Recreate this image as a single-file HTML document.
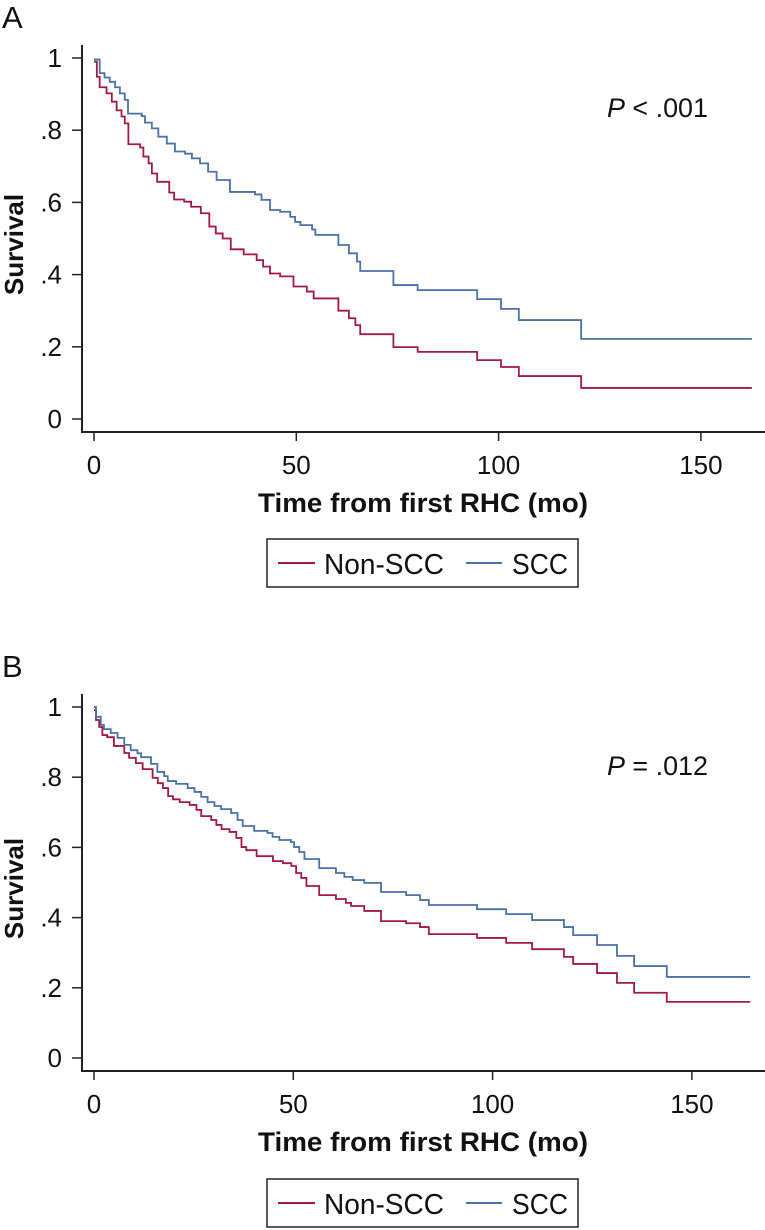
<!DOCTYPE html>
<html><head><meta charset="utf-8"><style>
html,body{margin:0;padding:0;background:#fff;}
svg{display:block;font-family:"Liberation Sans",Arial,sans-serif;}
</style></head><body>
<svg id="fig" width="765" height="1230" viewBox="0 0 765 1230" xmlns="http://www.w3.org/2000/svg"></svg>
<script>
// Panel A data (time in months, survival after step)
const aNonTimes=[0,0.7,1.4,3.1,4.4,5.6,6.8,7.6,8.5,11.4,12.2,13.5,14.3,15.6,18.6,19.8,22.3,24,26.4,28.5,30.1,31.8,33.8,37,40.2,41.8,43.5,46,49.3,52.6,54.3,60.4,63,64.6,65.8,74,80,94.7,100.6,105,120.4];
const aNonSurv=[0.99,0.948,0.919,0.902,0.879,0.855,0.838,0.819,0.761,0.752,0.727,0.708,0.68,0.657,0.627,0.608,0.602,0.588,0.57,0.533,0.514,0.5,0.47,0.456,0.44,0.422,0.403,0.395,0.367,0.353,0.334,0.3,0.279,0.26,0.235,0.199,0.186,0.163,0.144,0.119,0.086];
const aSccTimes=[0,1.4,2.6,3.9,5.2,6.4,7.6,8.4,11.8,12.6,14.3,15.9,18,20,22.5,24.2,26.2,28.2,30.3,33.6,39.8,41.4,43.5,46,48.5,49.7,51,53.9,54.7,60.4,63,65,65.8,74,80,94.7,100.6,105,120.4];
const aSccSurv=[0.996,0.958,0.946,0.934,0.919,0.902,0.884,0.846,0.839,0.821,0.805,0.782,0.763,0.741,0.735,0.722,0.708,0.685,0.662,0.629,0.622,0.607,0.579,0.574,0.56,0.546,0.537,0.525,0.51,0.482,0.459,0.436,0.41,0.371,0.357,0.332,0.305,0.274,0.222];
const aEnd=162.6;
// Panel B data
const bNonTimes=[0,0.5,1.3,2.1,3.3,5,7.6,8.8,10.5,12.2,14.7,16,17.3,18.6,19.8,21.5,24,25.7,26.9,29.4,30.7,32,34,35.7,37,38.2,40.8,44.9,47.4,49.5,50.7,52,53.3,56.5,60.7,63.2,64.5,67.8,72,78.3,81.8,84,96.1,103.4,109.9,117.9,120.2,126.2,131.2,135.5,143.7];
const bNonSurv=[0.991,0.963,0.943,0.92,0.914,0.889,0.869,0.855,0.84,0.823,0.798,0.783,0.769,0.746,0.737,0.729,0.721,0.707,0.689,0.678,0.664,0.652,0.644,0.627,0.601,0.592,0.575,0.561,0.555,0.547,0.527,0.513,0.49,0.464,0.453,0.442,0.433,0.419,0.39,0.384,0.373,0.353,0.342,0.328,0.31,0.288,0.268,0.242,0.214,0.186,0.16];
const bSccTimes=[0,0.5,1.7,2.5,4.2,5.9,7.6,9.2,10.9,11.8,14.3,15.9,17.6,18.5,20.6,23.5,25.2,26.9,28.5,30.2,31.9,34.4,36,37.3,40.2,43.5,44.8,46.5,49.4,50.2,51.5,52.8,56.5,60.7,62.8,64.9,67.8,72,78.3,81.8,84,96.1,103.4,109.9,117.9,120.2,126.2,131.2,135.5,143.7];
const bSccSurv=[1,0.972,0.949,0.937,0.926,0.912,0.892,0.877,0.868,0.857,0.838,0.815,0.803,0.789,0.781,0.769,0.758,0.744,0.729,0.718,0.709,0.698,0.678,0.661,0.647,0.641,0.63,0.621,0.615,0.601,0.587,0.567,0.541,0.527,0.516,0.507,0.499,0.473,0.464,0.45,0.436,0.424,0.41,0.393,0.373,0.35,0.322,0.291,0.262,0.231];
const bEnd=164.6;
const xTicks=[0,50,100,150];
const yTicks=[0,0.2,0.4,0.6,0.8,1];
const yTickLabels=["0",".2",".4",".6",".8","1"];

const NS="http://www.w3.org/2000/svg";
const svg=document.getElementById('fig');
function mk(tag,attrs,parent){const e=document.createElementNS(NS,tag);for(const k in attrs)e.setAttribute(k,attrs[k]);(parent||svg).appendChild(e);return e;}

function panel(cfg){
  const g=mk('g',{});
  
  
  const X=t=>94+t*cfg.xs, Y=s=>cfg.y0-s*cfg.ys;
  const lab=mk('text',{x:2,y:cfg.labY,'font-size':31,fill:'#111'},g);lab.textContent=cfg.key.toUpperCase();
  
  
  const ya=mk('line',{x1:82,y1:cfg.axTop,x2:82,y2:cfg.xAxY+1,stroke:'#222','stroke-width':2},g);
  
  
  const xa=mk('line',{x1:81,y1:cfg.xAxY,x2:765,y2:cfg.xAxY,stroke:'#222','stroke-width':2},g);
  
  
  yTicks.forEach((v,i)=>{
    mk('line',{x1:72,y1:Y(v),x2:82,y2:Y(v),stroke:'#222','stroke-width':1.5},g);
    const t=mk('text',{x:62,y:Y(v)+9,'font-size':26,'text-anchor':'end',fill:'#111'},g);t.textContent=yTickLabels[i];
    
    
  });
  xTicks.forEach(v=>{
    mk('line',{x1:X(v),y1:cfg.xAxY,x2:X(v),y2:cfg.xAxY+9,stroke:'#222','stroke-width':1.5},g);
    const t=mk('text',{x:X(v),y:cfg.xAxY+42,'font-size':26,'text-anchor':'middle',fill:'#111'},g);t.textContent=String(v);
    
    
  });
  const yt=mk('text',{x:0,y:0,'font-size':26,'font-weight':'bold','text-anchor':'middle',fill:'#111',transform:`translate(23,${(cfg.axTop+cfg.xAxY)/2+6}) rotate(-90)`},g);yt.textContent='Survival';
  
  
  const xt=mk('text',{x:423,y:cfg.xAxY+80,'font-size':27,'font-weight':'bold','text-anchor':'middle',fill:'#111',textLength:330,lengthAdjust:'spacingAndGlyphs'},g);xt.textContent='Time from first RHC (mo)';
  
  
  const p=mk('text',{x:607,y:cfg.pY,'font-size':27,fill:'#111',textLength:101,lengthAdjust:'spacingAndGlyphs'},g);
  const pi=mk('tspan',{'font-style':'italic'},p);pi.textContent='P';
  const pr=mk('tspan',{},p);pr.textContent=cfg.pText;
  
  
  function step(times,surv,end,color,name){
    let d='M'+X(times[0])+','+Y(surv[0]);
    for(let i=1;i<times.length;i++){d+=' H'+X(times[i])+' V'+Y(surv[i]);}
    d+=' H'+X(end);
    const path=mk('path',{d:d,fill:'none',stroke:color,'stroke-width':1.8},g);
    
    
  }
  step(cfg.nt,cfg.ns,cfg.end,'#a01a44','curve-non-scc');
  step(cfg.st,cfg.ss,cfg.end,'#4b71a8','curve-scc');
  const lg=mk('g',{},g);
  
  
  mk('rect',{x:267,y:cfg.legY,width:311,height:48,fill:'#fff',stroke:'#222','stroke-width':1.5},lg);
  mk('line',{x1:278,y1:cfg.legY+24,x2:315,y2:cfg.legY+24,stroke:'#a01a44','stroke-width':2},lg);
  mk('line',{x1:466,y1:cfg.legY+24,x2:502,y2:cfg.legY+24,stroke:'#4b71a8','stroke-width':2},lg);
  const l1=mk('text',{x:324,y:cfg.legY+35,'font-size':29,fill:'#111',textLength:120,lengthAdjust:'spacingAndGlyphs'},lg);l1.textContent='Non-SCC';
  
  
  const l2=mk('text',{x:512,y:cfg.legY+35,'font-size':29,fill:'#111',textLength:56,lengthAdjust:'spacingAndGlyphs'},lg);l2.textContent='SCC';
  
  
}
panel({key:'a',xs:4.046,y0:419,ys:361,axTop:45,xAxY:432,labY:28,pY:117,pText:' < .001',legY:539,nt:aNonTimes,ns:aNonSurv,st:aSccTimes,ss:aSccSurv,end:aEnd});
panel({key:'b',xs:3.986,y0:1058,ys:351,axTop:694,xAxY:1071,labY:677,pY:775,pText:' = .012',legY:1179,nt:bNonTimes,ns:bNonSurv,st:bSccTimes,ss:bSccSurv,end:bEnd});
</script>
</body></html>
